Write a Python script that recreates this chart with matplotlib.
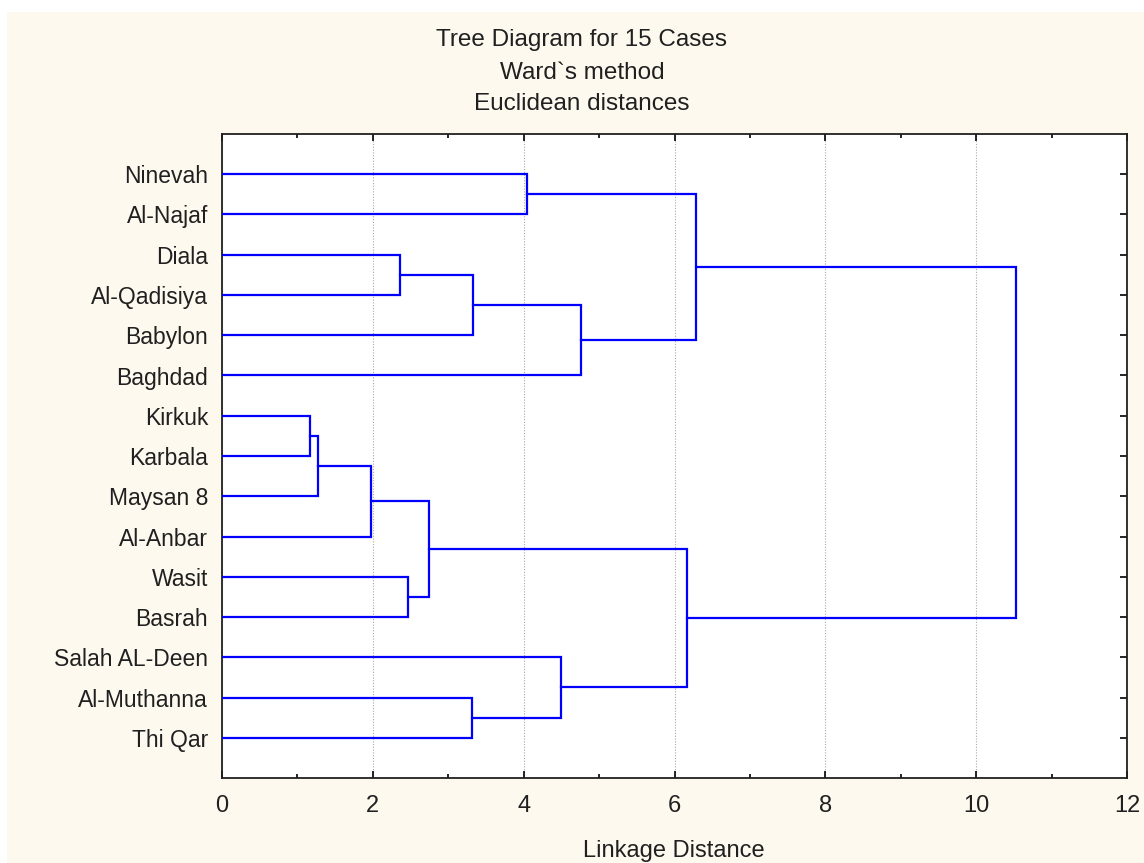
#!/usr/bin/env python3
import matplotlib

matplotlib.use("Agg")
import matplotlib.pyplot as plt
from matplotlib.patches import Rectangle
from matplotlib.ticker import MultipleLocator

# leaf order top to bottom
leaves = ["Ninevah", "Al-Najaf", "Diala", "Al-Qadisiya", "Babylon", "Baghdad",
          "Kirkuk", "Karbala", "Maysan 8", "Al-Anbar", "Wasit", "Basrah",
          "Salah AL-Deen", "Al-Muthanna", "Thi Qar"]

# merges in order of distance: (node a, node b, linkage distance);
# new node ids start at len(leaves)
merge_a = [6, 15, 16, 2, 10, 17, 13, 18, 0, 12, 22, 20, 23, 27]
merge_b = [7, 8, 9, 3, 11, 19, 14, 4, 1, 21, 5, 24, 25, 26]
merge_h = [1.17, 1.27, 1.97, 2.36, 2.47, 2.75, 3.32, 3.33, 4.05, 4.50,
           4.76, 6.17, 6.28, 10.53]

title_lines = ["Tree Diagram for 15 Cases", "Ward`s method", "Euclidean distances"]
x_label = "Linkage Distance"

cream = "#fef9ef"
blue = "#0000ff"
fonts = ["Liberation Sans", "DejaVu Sans"]

fig = plt.figure(figsize=(11.44, 8.63), dpi=100, facecolor="white")
fig.patches.append(Rectangle((7 / 1144, 0), 1, 1 - 12 / 863, transform=fig.transFigure,
                             facecolor=cream, edgecolor="none", zorder=-5))
ax = fig.add_axes([222 / 1144, 1 - 778 / 863, 905 / 1144, 644 / 863])
ax.set_facecolor("white")

# node positions: leaves at 1..n, merged node at midpoint of its children
ypos = {i: i + 1 for i in range(len(leaves))}
xpos = {i: 0.0 for i in range(len(leaves))}
nid = len(leaves)
for a, b, h in zip(merge_a, merge_b, merge_h):
    ax.plot([xpos[a], h, h, xpos[b]], [ypos[a], ypos[a], ypos[b], ypos[b]],
            color=blue, lw=1.6, solid_joinstyle="miter", zorder=3)
    ypos[nid] = (ypos[a] + ypos[b]) / 2
    xpos[nid] = h
    nid += 1

ax.set_xlim(0, 12)
ax.set_ylim(len(leaves) + 1, 0)
ax.xaxis.set_major_locator(MultipleLocator(2))
ax.xaxis.set_minor_locator(MultipleLocator(1))
ax.set_yticks(range(1, len(leaves) + 1))
ax.set_yticklabels(leaves)

ax.grid(True, axis="x", which="major", color="#a8a8a8", linestyle=(0, (1, 1.5)), lw=0.8)
ax.tick_params(axis="both", which="both", direction="in", top=True, right=True,
               color="black", width=1.2)
ax.tick_params(axis="both", which="major", length=5)
ax.tick_params(axis="x", which="minor", length=3)
ax.tick_params(axis="x", which="major", pad=12, labelsize=17, labelcolor="#202020")
ax.tick_params(axis="y", which="major", pad=10, labelsize=16.5, labelcolor="#202020")
for lbl in ax.get_yticklabels():
    lbl.set_fontfamily(fonts)
for lbl in ax.get_xticklabels():
    lbl.set_fontfamily(["Liberation Sans Narrow"] + fonts)
for s in ax.spines.values():
    s.set_linewidth(1.3)
    s.set_color("#202020")

for txt, ypx in zip(title_lines, [40, 73, 104]):
    fig.text(582 / 1144, 1 - ypx / 863, txt, ha="center", va="center", fontsize=17.5,
             family=fonts, color="#202020")
fig.text(674 / 1144, 1 - 851 / 863, x_label, ha="center", va="center", fontsize=17,
         family=fonts, color="#202020")

fig.savefig("out.png", dpi=100, facecolor=fig.get_facecolor())
